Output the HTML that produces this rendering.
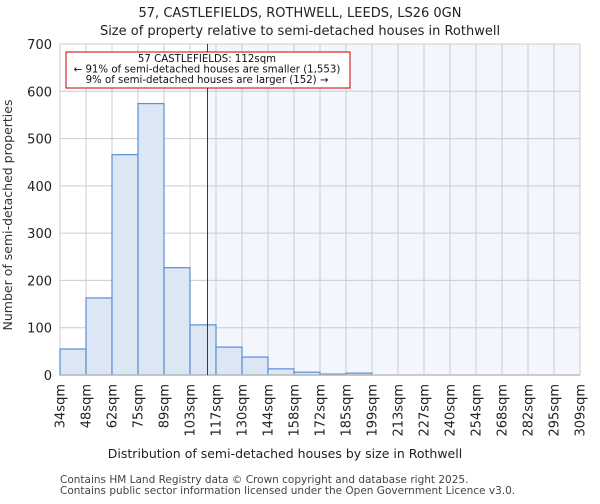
<!DOCTYPE html>
<html><head><meta charset="utf-8"><style>
body{margin:0;background:#fff;font-family:"DejaVu Sans","Liberation Sans",sans-serif;}
</style></head><body>
<svg width="600" height="500" xmlns="http://www.w3.org/2000/svg" font-family="DejaVu Sans, Liberation Sans, sans-serif">
<text x="300" y="17" text-anchor="middle" font-size="13" fill="#222">57, CASTLEFIELDS, ROTHWELL, LEEDS, LS26 0GN</text>
<text x="300" y="35" text-anchor="middle" font-size="13" fill="#222">Size of property relative to semi-detached houses in Rothwell</text>
<g id="plot"></g>
<text x="285" y="458" text-anchor="middle" font-size="12.5" fill="#222">Distribution of semi-detached houses by size in Rothwell</text>
<text transform="translate(12,215) rotate(-90)" text-anchor="middle" font-size="12.5" fill="#333">Number of semi-detached properties</text>
<text x="60" y="483" font-size="10.5" fill="#444">Contains HM Land Registry data © Crown copyright and database right 2025.</text>
<text x="60" y="494" font-size="10.5" fill="#444">Contains public sector information licensed under the Open Government Licence v3.0.</text>
</svg>
<script>
const binEdges=[34,48,62,75,89,103,117,130,144,158,172,185,199,213,227,240,254,268,282,295,309];
const counts=[55,163,466,574,227,106,59,38,13,6,2,4,0,0,0,0,0,0,0,0];
const yTicks=[0,100,200,300,400,500,600,700];
const propertySize=112;
const NS="http://www.w3.org/2000/svg";
const L=60,R=580,T=44,B=375,yMax=700,nb=counts.length;
const xMin=34,xMax=309;
const xb=i=>L+i*(R-L)/nb;
const xv=v=>L+(v-xMin)/(xMax-xMin)*(R-L);
const y=v=>B-v/yMax*(B-T);
const g=document.getElementById('plot');
function mk(t,a){const e=document.createElementNS(NS,t);for(const k in a)e.setAttribute(k,a[k]);g.appendChild(e);return e;}
let e;
const px=xv(propertySize);
e=mk('rect',{x:px,y:T,width:R-px,height:B-T,fill:'#f3f6fd'});


for(const t of yTicks){
 e=mk('line',{x1:L,x2:R,y1:y(t),y2:y(t),stroke:'#ccc','stroke-width':1});
 
 
 e=mk('text',{x:L-8,y:y(t)+5,'text-anchor':'end','font-size':13,fill:'#222'});
 e.textContent=t;
 
 
}
for(let i=0;i<binEdges.length;i++){
 e=mk('line',{x1:xb(i),x2:xb(i),y1:T,y2:B,stroke:'#ccc','stroke-width':1});
 
 
 const tx=xb(i)+4.5;
 e=mk('text',{transform:`translate(${tx},${B+9}) rotate(-90)`,'text-anchor':'end','font-size':13,fill:'#222'});
 e.textContent=binEdges[i]+'sqm';
 
 
}
for(let i=0;i<nb;i++){
 if(counts[i]<=0)continue;
 e=mk('rect',{x:xb(i),y:y(counts[i]),width:xb(i+1)-xb(i),height:B-y(counts[i]),fill:'#dde6f4',stroke:'#5b8fd6','stroke-width':1.2});
 
 
}
e=mk('line',{x1:L,x2:R,y1:B,y2:B,stroke:'#bbb','stroke-width':1.5});


e=mk('line',{x1:px,x2:px,y1:T,y2:B,stroke:'#b00','stroke-width':1});


e=mk('rect',{x:66,y:52,width:284,height:36,fill:'#fff',stroke:'#c00','stroke-width':1});


const lines=['57 CASTLEFIELDS: 112sqm','← 91% of semi-detached houses are smaller (1,553)','9% of semi-detached houses are larger (152) →'];
lines.forEach((s,k)=>{
 e=mk('text',{x:207,y:62+k*10.5,'text-anchor':'middle','font-size':10.2,fill:'#111'});
 e.textContent=s;
 
 
});
</script>
</body></html>
